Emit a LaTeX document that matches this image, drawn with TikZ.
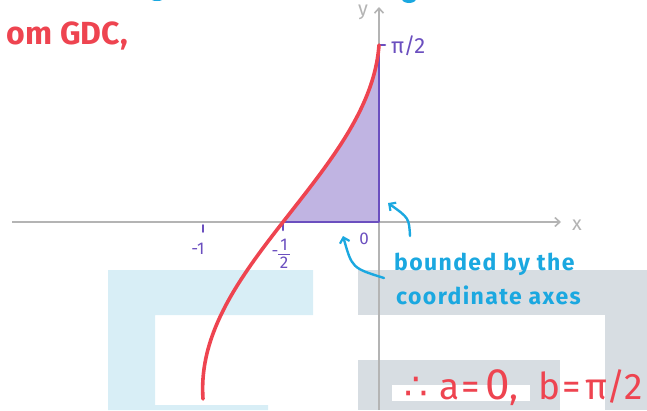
\documentclass[tikz,border=0pt]{standalone}
\usepackage{fontspec}
\setmainfont{Fira Sans}
\newfontfamily\symfont{DejaVu Sans}
\usetikzlibrary{arrows.meta}
\definecolor{cred}{HTML}{EE4450}
\definecolor{cpurple}{HTML}{6B4FBF}
\definecolor{cfill}{HTML}{C0B4E2}
\definecolor{cblue}{HTML}{1BA8E0}
\definecolor{caxis}{HTML}{B4B4B4}
\definecolor{wmblue}{HTML}{D8EEF6}
\definecolor{wmgrey}{HTML}{D7DDE2}
\tikzset{
  axisline/.style={draw=caxis,line width=1.6pt,-{Straight Barb[length=5pt,width=9pt,line width=1.6pt]}},
  axislabel/.style={text=caxis,font=\fontsize{20}{20}\selectfont,inner sep=0pt},
  plab/.style={text=cpurple,font=\fontsize{17}{17}\selectfont,inner sep=0pt},
  bluetxt/.style={text=cblue,font=\fontsize{23}{23}\selectfont\bfseries\addfontfeature{LetterSpace=6},inner sep=0pt,anchor=west},
  redtxt/.style={text=cred,inner sep=0pt},
  bluearrow/.style={draw=cblue,line width=2.4pt,line cap=round,-{Straight Barb[length=5pt,width=10pt,line width=2.2pt]}},
  outline/.style={draw=cpurple,line width=2.6pt,line cap=round,line join=round},
}
\begin{document}
\begin{tikzpicture}[x=1pt,y=-1pt]
\useasboundingbox (0,0) rectangle (647,410);
% watermark
\fill[wmblue] (108,270) -- (313,270) -- (313,315) -- (155,315) -- (155,405) -- (268,405) -- (268,410) -- (108,410) -- cycle;
\fill[wmgrey] (358,270) rectangle (647,315);
\fill[wmgrey] (605,315) rectangle (647,410);
\fill[wmgrey] (358,360) rectangle (560,410);
\fill[white] (392,385) rectangle (530,401);
% cut-off heading blobs
\fill[cblue] (157,-1) ellipse (6pt and 2pt);
\fill[cblue] (409,-1) ellipse (7pt and 4pt);
% axes
\coordinate (xs) at (12,222);
\coordinate (xe) at (561,222);
\coordinate (ys) at (379,410);
\coordinate (ye) at (379,7);
\draw[axisline] (xs) -- (xe);
\draw[axisline] (ys) -- (ye);
\node[axislabel] (xl) at (577,225) {x};
\node[axislabel] (yl) at (363,12) {y};
% shaded region
\fill[cfill] plot[domain=0:90,samples=40,variable=\t] ({283+88*sin(\t)+8*(1-cos(\t))},{222-177*\t/90}) -- (379,222) -- cycle;
\coordinate (o) at (379,222);
\coordinate (h) at (283,222);
\coordinate (top) at (379,45);
\coordinate (htick) at (283,230);
\coordinate (ttick) at (385,45);
\draw[outline] (htick) -- (h) -- (o) -- (top) -- (ttick);
% curve
\draw[cred,line width=3.6pt,line cap=round] plot[domain=-90:90,samples=80,variable=\t] ({283+88*sin(\t)+8*(1-cos(\t))},{222-177*\t/90});
% tick at -1
\coordinate (m1a) at (203,225);
\coordinate (m1b) at (203,232);
\draw[cpurple,line width=1.8pt,line cap=round] (m1a) -- (m1b);
\node[plab] (lm1) at (198,249) {-1};
\node[plab] (lmd) at (275,254) {-};
\node[plab] (lmn) at (284,245) {1};
\coordinate (fb1) at (278,254.5);
\coordinate (fb2) at (290,254.5);
\draw[cpurple,line width=1.2pt] (fb1) -- (fb2);
\node[plab] (lmm) at (284,263) {2};
\node[plab] (l0) at (364,239) {0};
\node[plab,font=\fontsize{22}{22}\selectfont,anchor=west] (lpi) at (391,46) {π/2};
% blue annotations
\coordinate (a1s) at (410,236);
\coordinate (a1e) at (388,203);
\draw[bluearrow] (a1s) .. controls (409,218) .. (a1e);
\coordinate (a2s) at (384,278);
\coordinate (a2e) at (343,236);
\draw[bluearrow] (a2s) .. controls (352,268) .. (a2e);
\node[bluetxt] (t1) at (394,264) {bounded by the};
\node[bluetxt] (t2) at (396,295) {coordinate axes};
% red texts
\node[redtxt,anchor=east,font=\fontsize{32}{32}\selectfont\bfseries] (gdc) at (128,36) {om GDC,};
\node[redtxt,anchor=base west,font=\fontsize{37}{37}\selectfont] (res) at (404,399) {{\symfont ∴}\hspace{12pt}a\hspace{2pt}=\hspace{5pt}{\fontsize{44}{44}\selectfont 0},\hspace{20pt}b\hspace{2pt}=\hspace{4pt}π/2};
\end{tikzpicture}
\end{document}
